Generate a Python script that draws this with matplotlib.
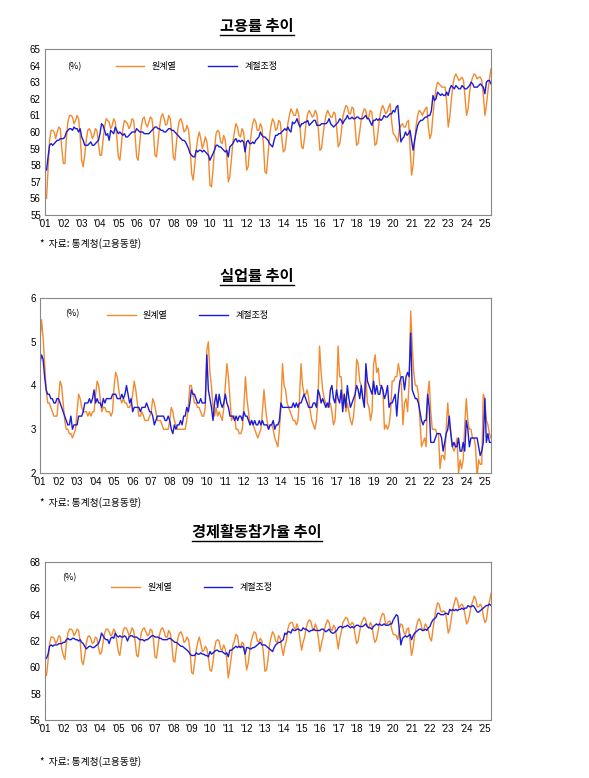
import matplotlib
matplotlib.use("Agg")
import matplotlib.pyplot as plt
from matplotlib.lines import Line2D
import numpy as np

plt.rcParams['font.family'] = ['Noto Sans CJK KR', 'DejaVu Sans']

years = [f"'{y:02d}" for y in range(1, 26)]

emp_raw = [
56.1,56.0,57.8,59.5,60.1,60.1,60.0,59.6,60.0,60.3,60.2,59.0,
58.1,58.1,59.6,60.6,61.0,61.0,60.9,60.5,60.7,61.0,60.8,59.8,
58.3,57.9,58.6,59.5,60.1,60.2,60.0,59.6,59.8,60.2,60.1,59.3,
58.6,58.6,59.5,60.3,60.8,60.7,60.6,60.2,60.4,60.8,60.6,59.7,
58.5,58.3,59.2,60.2,60.7,60.6,60.5,60.2,60.4,60.8,60.7,59.8,
58.5,58.3,59.3,60.3,60.8,60.9,60.5,60.3,60.6,60.9,60.8,60.0,
58.6,58.5,59.4,60.3,60.9,61.1,60.8,60.4,60.5,61.0,60.8,59.9,
58.5,58.3,59.3,60.2,60.7,60.8,60.5,60.0,60.1,60.4,60.1,59.2,
57.5,57.1,58.0,58.9,59.6,60.0,59.6,59.0,59.3,59.7,59.4,58.6,
56.8,56.7,57.7,59.0,59.9,60.1,60.0,59.4,59.3,59.8,59.5,58.6,
57.0,57.3,58.3,59.4,60.0,60.5,60.3,59.8,59.7,60.2,60.0,59.1,
57.7,57.9,59.0,59.9,60.5,60.8,60.6,60.1,60.1,60.5,60.3,59.3,
57.6,57.5,58.6,59.7,60.4,60.8,60.6,60.1,60.2,60.7,60.6,59.7,
58.8,58.9,59.6,60.5,61.0,61.4,61.2,61.0,61.0,61.4,61.1,60.2,
59.1,59.0,59.7,60.6,61.1,61.3,61.1,60.9,61.0,61.3,61.1,60.1,
58.9,59.0,59.8,60.5,61.0,61.3,61.1,60.9,60.9,61.2,61.1,60.2,
59.1,59.3,60.0,60.9,61.3,61.6,61.5,61.1,61.1,61.5,61.4,60.4,
59.2,59.3,60.0,60.7,61.1,61.4,61.3,60.8,60.9,61.3,61.2,60.3,
59.2,59.3,60.0,60.8,61.3,61.6,61.4,61.1,61.2,61.5,61.7,60.6,
59.9,59.8,59.6,59.4,60.2,60.4,60.5,60.3,60.3,60.6,60.7,59.1,
57.4,58.0,59.4,60.4,61.0,61.3,61.2,61.0,61.2,61.4,61.5,60.3,
59.6,59.9,61.0,61.9,62.6,63.0,62.9,62.8,62.7,62.7,62.7,61.8,
60.3,60.9,61.9,62.8,63.3,63.5,63.3,63.1,63.2,63.3,63.1,62.1,
61.0,61.4,62.4,63.0,63.3,63.5,63.4,63.2,63.3,63.3,63.1,62.2,
61.0,61.6,62.5,63.2,63.8]

emp_sa = [
57.8,57.7,58.5,59.2,59.3,59.2,59.3,59.4,59.5,59.5,59.6,59.6,
59.6,59.7,60.0,60.1,60.2,60.2,60.1,60.3,60.2,60.2,60.0,60.2,
59.7,59.5,59.2,59.2,59.2,59.3,59.4,59.2,59.2,59.3,59.4,59.5,
59.9,60.5,60.4,60.1,59.8,59.9,59.5,60.1,60.0,59.9,60.3,60.1,
59.9,60.0,59.9,59.8,59.9,59.7,59.7,59.8,59.9,60.0,60.0,60.0,
60.2,60.1,60.0,60.0,60.0,59.9,59.9,59.9,59.9,60.0,60.1,60.2,
60.3,60.3,60.2,60.2,60.1,60.1,60.0,60.0,60.1,60.2,60.2,60.1,
60.1,60.0,59.9,59.8,59.7,59.6,59.5,59.5,59.4,59.2,59.0,58.7,
58.6,58.5,58.5,58.9,58.8,58.9,58.9,58.8,58.9,58.8,58.7,58.6,
58.3,58.5,58.7,58.9,59.2,59.2,59.1,59.1,59.0,58.9,58.8,58.9,
58.5,59.1,59.2,59.3,59.5,59.6,59.4,59.5,59.4,59.5,59.4,58.8,
59.4,59.5,59.3,59.3,59.4,59.3,59.5,59.6,59.7,60.0,59.8,59.7,
59.7,59.6,59.5,59.3,59.2,59.1,59.5,59.8,59.8,59.9,59.9,60.0,
60.1,60.2,60.1,60.3,60.1,60.0,60.6,60.5,60.6,60.8,60.5,60.3,
60.5,60.5,60.6,60.6,60.7,60.4,60.5,60.6,60.7,60.7,60.4,60.4,
60.4,60.5,60.5,60.5,60.5,60.6,60.8,60.5,60.4,60.3,60.4,60.5,
60.6,60.8,60.7,60.5,60.7,60.8,61.0,60.8,60.8,60.9,60.8,60.8,
60.9,60.9,60.8,60.8,60.8,60.9,61.0,60.8,60.8,60.6,60.4,60.7,
60.7,60.8,60.7,60.8,60.7,60.8,61.0,60.9,60.9,61.0,61.1,61.1,
61.3,61.2,61.5,61.6,60.5,59.4,59.6,59.7,60.0,59.8,59.9,60.1,
59.5,58.9,59.5,60.0,60.4,60.6,60.7,60.7,60.8,60.9,60.9,61.0,
61.0,61.3,62.2,61.9,62.0,62.4,62.3,62.2,62.3,62.2,62.2,62.4,
62.2,62.6,62.8,62.7,62.6,62.8,62.7,62.6,62.6,62.8,62.7,62.6,
62.6,62.7,62.8,63.0,62.9,62.7,62.7,62.7,62.8,62.9,62.8,62.7,
62.3,63.0,63.1,63.1,62.9]

unemp_raw = [
5.0,5.5,5.1,4.5,3.9,3.6,3.6,3.5,3.4,3.3,3.3,3.3,
3.7,4.1,4.0,3.6,3.2,3.0,3.0,2.9,2.9,2.8,2.9,3.0,
3.4,3.8,3.7,3.5,3.4,3.4,3.4,3.3,3.4,3.3,3.4,3.4,
3.8,4.1,4.0,3.7,3.4,3.5,3.5,3.4,3.4,3.4,3.3,3.4,
4.0,4.3,4.2,3.9,3.7,3.6,3.7,3.6,3.6,3.5,3.5,3.6,
3.8,4.1,3.9,3.6,3.3,3.3,3.4,3.3,3.2,3.2,3.2,3.3,
3.4,3.7,3.6,3.4,3.2,3.2,3.2,3.1,3.0,3.0,3.0,3.0,
3.2,3.5,3.4,3.2,3.1,3.0,3.0,3.0,3.0,3.0,3.0,3.2,
3.5,4.0,4.0,3.8,3.6,3.6,3.5,3.5,3.4,3.3,3.3,3.5,
4.8,5.0,4.3,4.0,3.5,3.3,3.5,3.3,3.4,3.3,3.2,3.5,
4.0,4.5,4.2,3.7,3.2,3.3,3.3,3.0,3.0,2.9,2.9,3.0,
3.5,4.2,3.7,3.4,3.1,3.2,3.1,3.0,2.9,2.8,2.9,3.0,
3.4,3.9,3.5,3.2,3.0,3.1,3.1,3.0,2.8,2.7,2.6,3.0,
3.5,4.5,4.0,3.9,3.6,3.5,3.4,3.3,3.2,3.2,3.1,3.2,
3.7,4.5,4.0,3.8,3.8,3.9,3.7,3.4,3.2,3.1,3.0,3.2,
3.7,4.9,4.3,3.9,3.7,3.6,3.5,3.6,3.6,3.4,3.1,3.2,
3.8,4.9,4.2,4.2,3.6,3.8,3.4,3.6,3.4,3.2,3.1,3.3,
3.7,4.6,4.5,4.1,4.0,3.7,3.7,4.2,3.6,3.5,3.2,3.4,
4.5,4.7,4.3,4.4,4.0,4.0,3.9,3.0,3.1,3.0,3.1,3.4,
4.1,4.1,4.2,4.2,4.5,4.3,4.0,3.1,3.6,3.7,3.4,4.1,
5.7,4.9,4.3,4.0,4.0,3.8,3.2,2.6,2.7,2.8,2.6,3.8,
4.1,3.4,3.0,3.0,3.0,2.9,2.9,2.1,2.4,2.4,2.3,3.0,
3.6,3.1,2.9,2.6,2.5,2.6,2.8,2.0,2.3,2.1,2.3,3.1,
3.7,3.2,3.0,3.0,2.8,2.8,2.6,1.9,2.3,2.2,2.2,3.8,
3.7,3.2,3.1,2.9,2.8]

unemp_sa = [
4.5,4.7,4.6,4.2,3.9,3.8,3.8,3.7,3.7,3.6,3.6,3.7,
3.7,3.6,3.5,3.4,3.3,3.2,3.1,3.1,3.3,3.0,3.1,3.1,
3.1,3.3,3.3,3.3,3.4,3.6,3.6,3.6,3.7,3.6,3.7,3.9,
3.6,3.7,3.6,3.6,3.5,3.7,3.6,3.7,3.7,3.7,3.7,3.8,
3.8,3.8,3.7,3.7,3.7,3.8,3.7,3.8,4.0,3.8,3.6,3.7,
3.4,3.5,3.5,3.5,3.5,3.4,3.5,3.5,3.5,3.6,3.5,3.4,
3.4,3.3,3.1,3.2,3.3,3.3,3.3,3.3,3.3,3.2,3.2,3.3,
3.2,3.0,2.9,3.1,3.0,3.1,3.1,3.2,3.1,3.3,3.3,3.5,
3.4,3.6,3.9,3.8,3.8,3.7,3.6,3.6,3.7,3.6,3.6,3.6,
4.7,3.9,3.7,3.5,3.2,3.6,3.8,3.5,3.8,3.6,3.5,3.6,
3.8,3.6,3.5,3.3,3.3,3.3,3.2,3.3,3.2,3.3,3.3,3.2,
3.4,3.3,3.3,3.2,3.1,3.2,3.1,3.2,3.1,3.1,3.2,3.1,
3.2,3.1,3.1,3.1,3.0,3.1,3.1,3.2,3.0,3.1,3.1,3.2,
3.6,3.5,3.5,3.5,3.5,3.5,3.5,3.5,3.6,3.5,3.6,3.5,
3.6,3.6,3.7,3.8,3.7,3.6,3.5,3.5,3.5,3.6,3.6,3.5,
3.9,3.8,3.6,3.7,3.6,3.5,3.6,3.5,3.9,4.0,3.7,3.6,
3.9,3.7,3.6,3.9,3.4,3.8,3.5,4.0,3.7,3.5,3.6,3.7,
3.8,4.0,3.9,3.7,4.0,3.7,3.5,4.5,4.1,4.0,3.9,3.8,
4.1,3.8,4.0,3.8,3.8,4.0,3.9,3.7,3.8,4.0,3.5,3.6,
3.6,3.7,3.8,3.3,3.8,4.1,4.2,4.2,3.9,4.2,4.3,4.2,
5.2,3.9,3.8,3.7,3.7,3.6,3.4,3.2,3.1,3.2,3.2,3.8,
3.5,2.7,2.7,2.7,2.8,2.9,2.9,2.9,2.8,2.5,2.7,2.9,
3.0,3.3,2.9,2.6,2.7,2.6,2.6,2.8,2.5,2.5,2.7,2.5,
3.2,3.0,2.6,2.8,2.8,2.8,2.8,2.8,2.6,2.4,2.5,2.7,
3.7,2.7,2.9,2.7,2.7]

part_raw = [
59.3,59.4,60.5,61.8,62.3,62.3,62.2,61.8,62.0,62.4,62.3,61.4,
60.9,60.6,61.8,62.6,62.9,62.9,62.8,62.4,62.6,62.9,62.8,62.0,
60.5,60.2,60.9,61.8,62.3,62.4,62.2,61.8,61.9,62.3,62.2,61.5,
61.0,61.1,61.9,62.6,62.9,62.9,62.7,62.4,62.5,62.9,62.7,62.0,
61.2,60.9,61.8,62.7,63.0,63.0,62.8,62.4,62.6,63.0,62.8,62.0,
60.9,60.8,61.8,62.6,62.9,63.0,62.7,62.4,62.5,62.9,62.8,62.1,
60.8,60.7,61.6,62.5,62.9,63.0,62.7,62.3,62.3,62.8,62.6,61.8,
60.5,60.4,61.4,62.2,62.6,62.7,62.4,61.9,62.0,62.3,62.1,61.2,
59.6,59.5,60.4,61.3,61.9,62.3,61.8,61.2,61.3,61.6,61.4,60.7,
59.8,59.7,60.4,61.4,62.0,62.1,62.0,61.4,61.3,61.7,61.4,60.6,
59.2,59.9,60.8,61.7,62.0,62.5,62.4,61.6,61.5,61.9,61.8,60.9,
59.8,60.3,61.2,62.0,62.4,62.7,62.6,62.0,61.9,62.2,62.0,61.1,
59.7,59.8,60.6,61.7,62.3,62.7,62.5,62.0,61.9,62.4,62.2,61.5,
60.9,61.6,62.0,62.9,63.3,63.4,63.4,63.0,62.9,63.3,62.9,62.1,
61.3,61.9,62.3,63.0,63.4,63.6,63.5,63.0,62.8,63.3,63.0,62.2,
61.2,61.8,62.3,62.9,63.3,63.6,63.4,62.9,62.8,63.2,63.0,62.2,
61.4,62.2,62.7,63.4,63.6,63.8,63.7,63.3,63.2,63.4,63.3,62.5,
61.8,62.0,62.7,63.3,63.6,63.8,63.6,63.1,63.0,63.4,63.2,62.4,
61.9,62.1,62.7,63.3,63.8,64.1,64.0,63.3,63.3,63.5,63.5,62.9,
62.5,62.5,62.4,62.1,62.9,63.3,63.2,62.6,62.5,62.9,63.0,62.0,
60.9,61.5,62.4,63.0,63.5,63.7,63.4,62.8,62.9,63.3,63.1,62.8,
62.2,62.0,62.9,63.7,64.4,64.9,64.8,64.3,64.2,64.3,64.2,63.6,
62.6,62.9,63.7,64.4,64.9,65.3,65.1,64.5,64.7,64.8,64.6,64.0,
63.3,63.5,64.0,64.7,65.0,65.4,65.2,64.6,64.6,64.8,64.6,63.9,
63.4,63.6,64.5,65.0,65.6]

part_sa = [
60.6,60.7,61.0,61.6,61.7,61.6,61.7,61.7,61.7,61.8,61.8,61.8,
61.9,61.9,62.1,62.2,62.1,62.1,62.2,62.2,62.1,62.1,62.0,62.1,
61.9,61.8,61.6,61.4,61.5,61.6,61.6,61.5,61.5,61.6,61.7,61.8,
62.1,62.6,62.4,62.2,62.1,62.1,61.8,62.2,62.3,62.2,62.6,62.4,
62.3,62.4,62.3,62.3,62.4,62.3,62.0,62.3,62.4,62.4,62.3,62.3,
62.3,62.2,62.1,62.1,62.1,62.0,62.1,62.1,62.2,62.3,62.4,62.4,
62.3,62.3,62.3,62.2,62.2,62.1,62.1,62.1,62.1,62.2,62.2,62.1,
62.0,61.9,61.9,61.8,61.7,61.6,61.6,61.5,61.4,61.3,61.2,61.0,
60.9,60.9,60.9,61.1,61.0,61.0,61.1,61.0,61.0,60.9,60.9,60.8,
61.2,61.0,61.1,61.2,61.3,61.3,61.2,61.2,61.2,61.1,61.0,61.1,
60.8,61.3,61.3,61.4,61.5,61.6,61.5,61.6,61.5,61.6,61.5,61.0,
61.5,61.5,61.4,61.4,61.5,61.5,61.6,61.7,61.8,61.9,61.7,61.7,
61.7,61.6,61.5,61.4,61.3,61.2,61.5,61.7,61.8,61.9,61.9,62.0,
62.1,62.6,62.5,62.7,62.7,62.6,62.9,62.8,62.8,62.9,62.9,62.8,
62.8,63.0,62.9,62.9,62.8,62.7,62.8,62.8,62.9,62.8,62.8,62.8,
62.8,62.9,62.9,62.8,62.7,62.8,62.9,62.7,62.6,62.6,62.7,62.8,
63.0,63.1,63.1,63.0,63.1,63.1,63.2,63.1,63.0,63.1,63.0,63.1,
63.2,63.2,63.1,63.1,63.1,63.2,63.3,63.1,63.0,63.0,62.9,63.1,
63.2,63.3,63.2,63.3,63.2,63.2,63.3,63.2,63.2,63.2,63.3,63.3,
63.6,63.8,64.0,63.9,62.8,61.7,62.2,62.3,62.4,62.3,62.4,62.5,
62.1,62.4,62.6,62.7,62.8,62.9,62.9,62.8,62.8,62.9,62.8,63.0,
63.1,63.4,63.6,63.7,63.8,64.1,64.1,64.0,64.0,64.0,64.1,64.1,
64.0,64.4,64.3,64.4,64.3,64.4,64.3,64.4,64.4,64.5,64.4,64.5,
64.5,64.7,64.6,64.6,64.7,64.6,64.4,64.2,64.2,64.3,64.4,64.5,
64.6,64.7,64.7,64.8,64.7]

ORANGE = '#F28A2E'
BLUE = '#1C1CD6'
W, H = 589, 778
fig = plt.figure(figsize=(W/100, H/100), dpi=100)

def ax_at(x0, y0, x1, y1):
    return fig.add_axes([x0/W, 1-y1/H, (x1-x0)/W, (y1-y0)/H])

panels = [
    dict(box=(45, 49, 491, 215), raw=emp_raw, sa=emp_sa, ylim=(55, 65), step=1,
         title='고용률 추이', ty=26, tx=257, foot=244, pct=(67, 67), leg=(0.14, 0.97)),
    dict(box=(40, 298, 491, 473), raw=unemp_raw, sa=unemp_sa, ylim=(2, 6), step=1,
         title='실업률 추이', ty=276, tx=257, foot=503, pct=(65, 314), leg=(0.13, 0.97)),
    dict(box=(45, 562, 491, 720), raw=part_raw, sa=part_sa, ylim=(56, 68), step=2,
         title='경제활동참가율 추이', ty=532, tx=257, foot=762, pct=(62, 578), leg=(0.13, 0.92)),
]

fig.canvas.draw()
r = fig.canvas.get_renderer()
for p in panels:
    ax = ax_at(*p['box'])
    x = np.arange(len(p['raw']))
    ax.plot(x, p['raw'], color=ORANGE, lw=1.0, label='원계열')
    ax.plot(np.arange(len(p['sa'])), p['sa'], color=BLUE, lw=1.0, label='계절조정')
    ax.set_xlim(0, len(p['raw']) - 1)
    ax.set_ylim(*p['ylim'])
    ax.set_yticks(np.arange(p['ylim'][0], p['ylim'][1] + 0.01, p['step']))
    ax.set_xticks(np.arange(0, len(years) * 12, 12))
    ax.set_xticklabels(years)
    ax.tick_params(axis='both', labelsize=7, length=0, pad=3)
    for lab in ax.get_xticklabels() + ax.get_yticklabels():
        lab.set_family(['Liberation Sans', 'DejaVu Sans'])
    for s in ax.spines.values():
        s.set_color('#888888'); s.set_linewidth(0.8)
    ax.legend(loc='upper left', bbox_to_anchor=p['leg'], ncol=2, frameon=False,
              fontsize=6.5, handlelength=3.2, columnspacing=3.5)
    fig.text(p['pct'][0]/W, 1-p['pct'][1]/H, '(%)', fontsize=6.5, va='center')
    t = fig.text(p['tx']/W, 1-p['ty']/H, p['title'], fontsize=11, fontweight='bold',
                 ha='center', va='center')
    bb = t.get_window_extent(renderer=r)
    fx0, fx1 = bb.x0 / (W), bb.x1 / (W)
    fy = (bb.y0 - 1) / H
    fig.add_artist(Line2D([fx0, fx1], [fy, fy], color='black', lw=1.0))
    fig.text(40/W, 1-p['foot']/H, '*  자료: 통계청(고용동향)', fontsize=7, va='center')

fig.savefig('out.png', dpi=100)
